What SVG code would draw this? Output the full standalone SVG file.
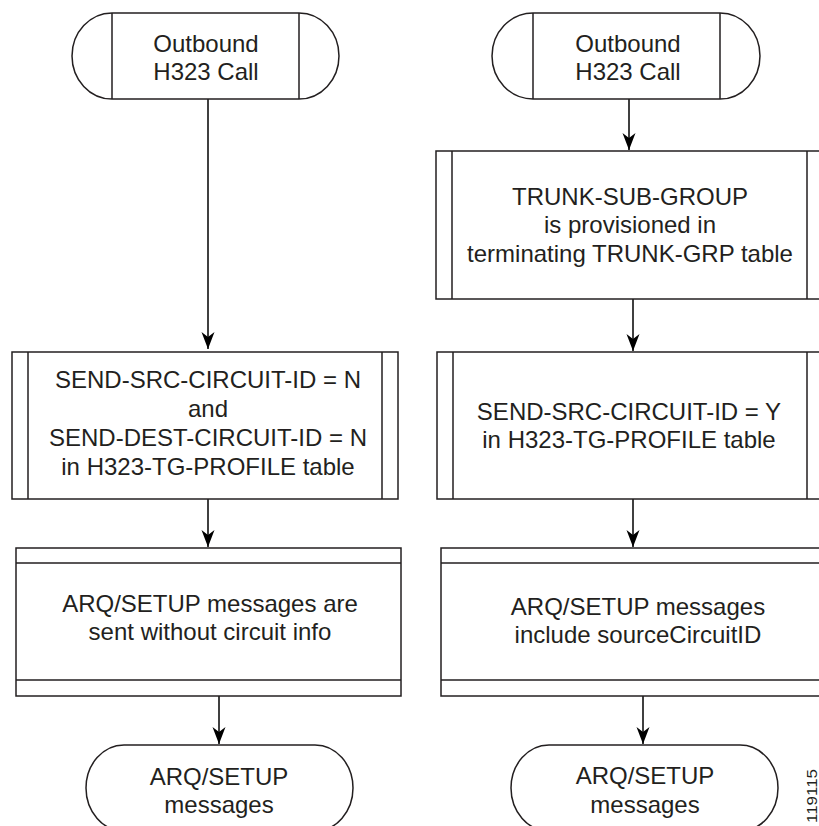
<svg xmlns="http://www.w3.org/2000/svg" width="819" height="826" viewBox="0 0 819 826">
<style>
.shape{fill:#fff;stroke:#231f20;stroke-width:1.5}
.line{fill:none;stroke:#231f20;stroke-width:1.5}
.conn{fill:none;stroke:#000;stroke-width:1.5;marker-end:url(#arrow)}
text{font-family:"Liberation Sans",Arial,Helvetica,sans-serif;font-size:24px;fill:#231f20;text-anchor:middle}
.id{font-size:14px}
</style>
<defs>
<marker id="arrow" markerUnits="userSpaceOnUse" viewBox="-18 -8 20 16" markerWidth="20" markerHeight="16" refX="0" refY="0" orient="auto">
<path d="M0,0 L-17,-6.5 L-12,0 L-17,6.5 Z" fill="#000"/>
</marker>
</defs>
<rect width="819" height="826" fill="#fff"/>
<g id="connectors">
<path class="conn" d="M208,99 V349"/>
<path class="conn" d="M208,499 V547"/>
<path class="conn" d="M219,696 V744"/>
<path class="conn" d="M629,99 V150"/>
<path class="conn" d="M633,299 V351"/>
<path class="conn" d="M633,499 V547"/>
<path class="conn" d="M643,696 V744"/>
</g>
<g id="start-left">
<path class="shape" d="M112,13 H299 A40,43 0 0 1 299,99 H112 A40,43 0 0 1 112,13 Z"/>
<path class="line" d="M112,13 V99 M299,13 V99"/>
<text x="206" y="52">Outbound</text>
<text x="206" y="80">H323 Call</text>
</g>
<g id="start-right">
<path class="shape" d="M533,13 H720 A40,43 0 0 1 720,99 H533 A41,43 0 0 1 533,13 Z"/>
<path class="line" d="M533,13 V99 M720,13 V99"/>
<text x="628" y="52">Outbound</text>
<text x="628" y="80">H323 Call</text>
</g>
<g id="trunk-sub-group">
<rect class="shape" x="436" y="151" width="390" height="148"/>
<path class="line" d="M452,151 V299 M807,151 V299"/>
<text x="630" y="205">TRUNK-SUB-GROUP</text>
<text x="630" y="233">is provisioned in</text>
<text x="630" y="262">terminating TRUNK-GRP table</text>
</g>
<g id="send-n">
<rect class="shape" x="12" y="352" width="386" height="147"/>
<path class="line" d="M28,352 V499 M382,352 V499"/>
<text x="208" y="388">SEND-SRC-CIRCUIT-ID = N</text>
<text x="208" y="417">and</text>
<text x="208" y="446">SEND-DEST-CIRCUIT-ID = N</text>
<text x="208" y="475">in H323-TG-PROFILE table</text>
</g>
<g id="send-y">
<rect class="shape" x="437" y="352" width="390" height="147"/>
<path class="line" d="M453,352 V499 M807,352 V499"/>
<text x="629" y="420">SEND-SRC-CIRCUIT-ID = Y</text>
<text x="629" y="448">in H323-TG-PROFILE table</text>
</g>
<g id="sent-without">
<rect class="shape" x="16" y="548" width="385" height="148"/>
<path class="line" d="M16,563 H401 M16,680 H401"/>
<text x="210" y="612">ARQ/SETUP messages are</text>
<text x="210" y="640">sent without circuit info</text>
</g>
<g id="include-source">
<rect class="shape" x="441" y="548" width="394" height="148"/>
<path class="line" d="M441,563 H835 M441,680 H835"/>
<text x="638" y="615">ARQ/SETUP messages</text>
<text x="638" y="643">include sourceCircuitID</text>
</g>
<g id="end-left">
<path class="shape" d="M124,745 H315 A38,43 0 0 1 315,831 H124 A38,43 0 0 1 124,745 Z"/>
<text x="219" y="785">ARQ/SETUP</text>
<text x="219" y="813">messages</text>
</g>
<g id="end-right">
<path class="shape" d="M549,745 H740 A38,43 0 0 1 740,831 H549 A38,43 0 0 1 549,745 Z"/>
<text x="645" y="784">ARQ/SETUP</text>
<text x="645" y="813">messages</text>
</g>
<text class="id" x="817" y="796" transform="rotate(-90 817 796)" textLength="54" lengthAdjust="spacingAndGlyphs">119115</text>
</svg>
